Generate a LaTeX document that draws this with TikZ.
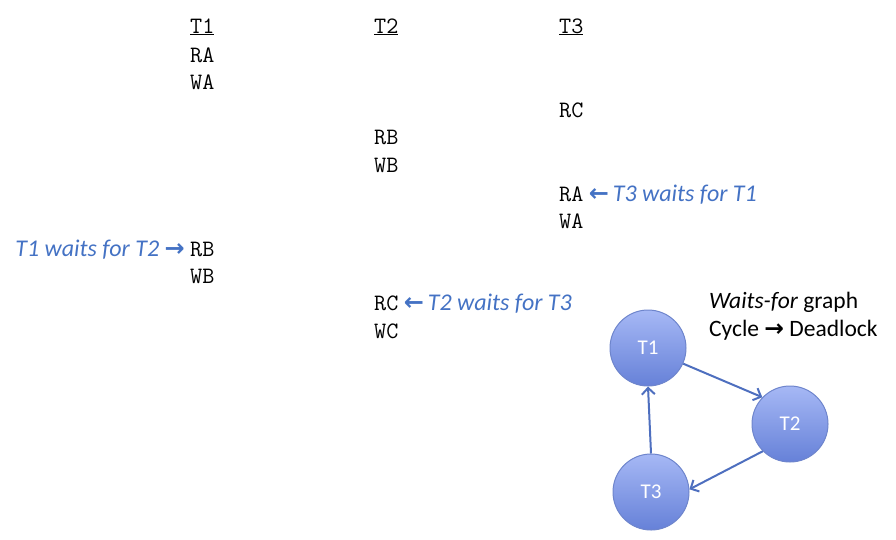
\documentclass[tikz,border=0pt]{standalone}
\usepackage{fontspec}
\setmainfont{Carlito}
\newfontfamily\symfont{DejaVu Sans}
\usetikzlibrary{positioning,arrows.meta}

\definecolor{noteblue}{HTML}{4472C4}
\definecolor{edgeblue}{HTML}{4E6FBF}
\definecolor{ringblue}{HTML}{6E85CC}
\definecolor{topblue}{HTML}{A6B8F5}
\definecolor{botblue}{HTML}{6681D8}

\newcommand{\ra}{{\symfont\bfseries →}}
\newcommand{\la}{{\symfont\bfseries ←}}

\tikzset{
  op/.style={anchor=base west,inner sep=0pt,font=\ttfamily\fontsize{23.5}{27}\selectfont},
  note/.style={inner sep=0pt,text=noteblue,font=\fontsize{24}{28}\selectfont\itshape},
  txn/.style={circle,draw=ringblue,line width=1pt,minimum size=76pt,top color=topblue,bottom color=botblue,
    text=white,font=\fontsize{21}{25}\selectfont},
  wait/.style={draw=edgeblue,line width=2pt,-{Straight Barb[length=6.5pt,width=13pt,line width=2pt]}}
}

\begin{document}
\begin{tikzpicture}[x=1pt,y=-1pt]
\useasboundingbox (0,0) rectangle (896,539);

% schedule, one row per step
\node[op] (h1) at (190,33) {\underline{T1}};
\node[op] (h2) at (374,33) {\underline{T2}};
\node[op] (h3) at (559,33) {\underline{T3}};
\node[op] (ra1) at (190,62) {RA};
\node[op] (wa1) at (190,89) {WA};
\node[op] (rc3) at (559,117) {RC};
\node[op] (rb2) at (374,144) {RB};
\node[op] (wb2) at (374,172) {WB};
\node[op] (ra3) at (559,201) {RA};
\node[op] (wa3) at (559,228) {WA};
\node[op] (rb1) at (190,256) {RB};
\node[op] (wb1) at (190,283) {WB};
\node[op] (rc2) at (374,310) {RC};
\node[op] (wc2) at (374,338) {WC};

% who waits for whom
\node[note,base left=5pt of rb1] (n12) {T1 waits for T2 \ra};
\node[note,base right=5pt of ra3] (n31) {\la\,T3 waits for T1};
\node[note,base right=5pt of rc2] (n23) {\la\,T2 waits for T3};

% waits-for graph
\node[txn] (t1) at (648,348) {T1};
\node[txn] (t2) at (790,424) {T2};
\node[txn] (t3) at (651,492) {T3};
\node[anchor=north west,align=left,inner sep=0pt,font=\fontsize{23.5}{28}\selectfont] (cap) at (709,292)
  {\textit{Waits-for} graph\\Cycle \ra\ Deadlock};

\draw[wait] (t1.-24) -- (t2.136);
\draw[wait] (t2.225) -- (t3.4);
\draw[wait] (t3.north) -- (t1.south);
\end{tikzpicture}
\end{document}
